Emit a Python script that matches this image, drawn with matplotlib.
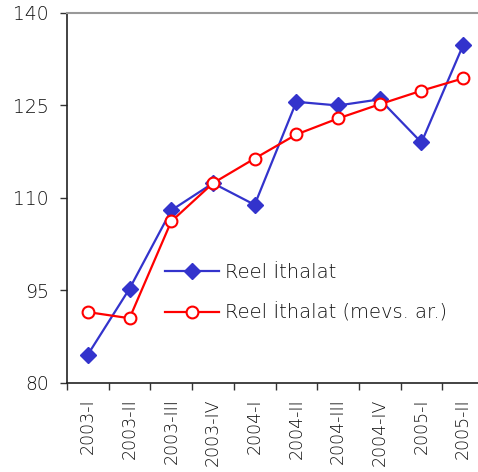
import matplotlib
matplotlib.use("Agg")
import matplotlib.pyplot as plt

quarters = ["2003-I", "2003-II", "2003-III", "2003-IV", "2004-I",
            "2004-II", "2004-III", "2004-IV", "2005-I", "2005-II"]
reel_ithalat = [84.6, 95.3, 108.0, 112.4, 108.9, 125.6, 125.0, 126.0, 119.0, 134.8]
reel_ithalat_ma = [91.5, 90.5, 106.2, 112.4, 116.4, 120.3, 122.9, 125.2, 127.4, 129.4]
y_ticks = [80, 95, 110, 125, 140]

plt.rcParams['font.family'] = ['DejaVu Sans']
plt.rcParams['font.weight'] = 200

fig = plt.figure(figsize=(4.78, 4.72), dpi=100)
# axes box: left 67px, right ~484px (runs past the canvas), top 13px, bottom 383px
ax = fig.add_axes([67/478, 1 - 383/472, (484 - 67)/478, (383 - 13)/472])

x = list(range(len(quarters)))
ax.plot(x, reel_ithalat, color="#3333CC", lw=1.6, marker="D", markersize=8,
        markerfacecolor="#3333CC", markeredgecolor="#3333CC", label="Reel İthalat", zorder=3)
ax.plot(x, reel_ithalat_ma, color="#FF0000", lw=1.6, marker="o", markersize=8.5,
        markerfacecolor="white", markeredgecolor="#FF0000", markeredgewidth=1.5,
        label="Reel İthalat (mevs. ar.)", zorder=4)

ax.set_xlim(-0.5, len(quarters) - 0.5)
ax.set_ylim(80, 140)
ax.set_yticks(y_ticks)
ax.set_yticklabels([str(v) for v in y_ticks], fontsize=13.5, color="#111111")
ax.set_xticks([i - 0.5 for i in range(len(quarters))], minor=False)
ax.set_xticklabels([])
ax.set_xticks(x, minor=True)
ax.set_xticklabels(quarters, minor=True, rotation=90, fontsize=12.5, color="#111111")
ax.tick_params(axis="x", which="major", direction="out", length=5, width=1, color="#333333")
ax.tick_params(axis="x", which="minor", length=0, pad=11)
ax.tick_params(axis="y", direction="out", length=5, width=1, color="#333333", pad=8)

ax.spines["right"].set_visible(False)
ax.spines["top"].set_color("#999999")
ax.spines["top"].set_linewidth(1.5)
ax.spines["left"].set_color("#222222")
ax.spines["bottom"].set_color("#222222")
ax.spines["left"].set_linewidth(1.2)
ax.spines["bottom"].set_linewidth(1.2)

leg = ax.legend(loc="upper left", bbox_to_anchor=((157 - 67)/417, (383 - 255)/370),
                frameon=False, fontsize=14, handlelength=2.8, labelspacing=1.1,
                handletextpad=0.3, borderaxespad=0)
for t in leg.get_texts():
    t.set_color("#111111")

fig.savefig("out.png", dpi=100)
